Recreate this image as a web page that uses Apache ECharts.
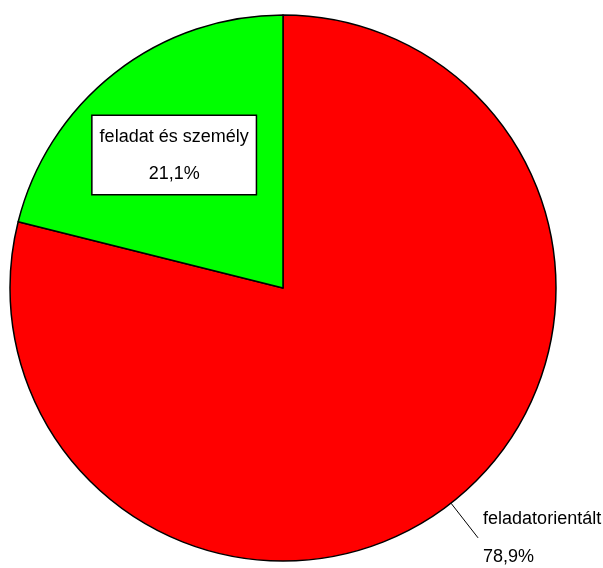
<!DOCTYPE html>
<html>
<head>
<meta charset="utf-8">
<script src="https://cdn.jsdelivr.net/npm/echarts@6/dist/echarts.min.js"></script>
<style>
html,body{margin:0;padding:0;background:#fff;}
#chart{width:603px;height:568px;}
</style>
</head>
<body>
<div id="chart"></div>
<script>
const categories = ['feladatorientált', 'feladat és személy'];
const values = [78.9, 21.1];
const colors = ['#ff0000', '#00ff00'];

const fmt = p => p.name + '\n' + p.value.toFixed(1).replace('.', ',') + '%';

const data = categories.map((name, i) => ({
  name: name,
  value: values[i],
  itemStyle: { color: colors[i] }
}));

data[0].label = {
  position: 'outside',
  formatter: fmt,
  align: 'left',
  width: 150,
  overflow: 'none',
  lineHeight: 38,
  distanceToLabelLine: 5
};
data[0].labelLine = { show: true, length: 44, length2: 0, lineStyle: { color: '#000', width: 1 } };

data[1].label = {
  position: 'inside',
  formatter: fmt,
  align: 'center',
  lineHeight: 37,
  backgroundColor: '#fff',
  borderColor: '#000',
  borderWidth: 1.5,
  padding: [2, 7, 2, 7],
  offset: [-23, -23]
};
data[1].labelLine = { show: false };

const chart = echarts.init(document.getElementById('chart'), null, { renderer: 'canvas' });
chart.setOption({
  animation: false,
  backgroundColor: '#ffffff',
  series: [{
    type: 'pie',
    center: [283, 288],
    radius: 273,
    startAngle: 90,
    clockwise: true,
    avoidLabelOverlap: false,
    silent: true,
    itemStyle: { borderColor: '#000', borderWidth: 1.5 },
    label: {
      show: true,
      color: '#000',
      fontFamily: '"Liberation Sans", Arial, sans-serif',
      fontSize: 18
    },
    emphasis: { disabled: true },
    data: data
  }]
});
</script>
</body>
</html>
